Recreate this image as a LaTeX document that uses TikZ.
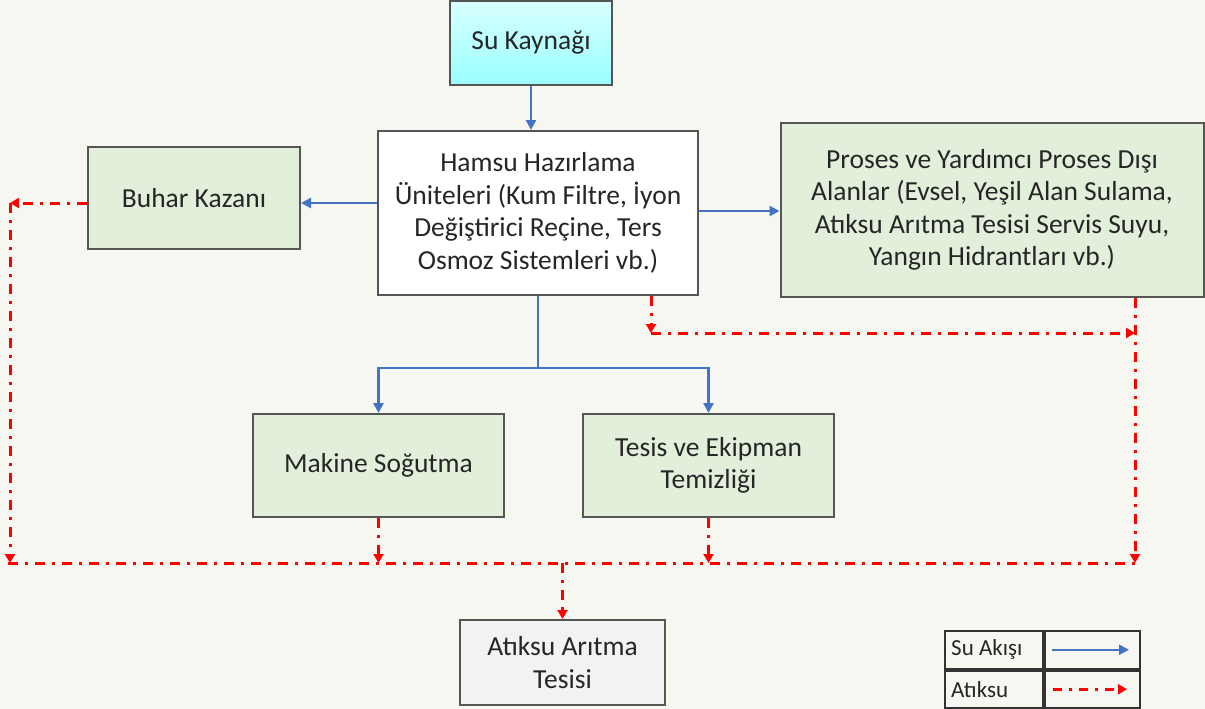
\documentclass[tikz,border=0pt]{standalone}
\usepackage{fontspec}
\setmainfont{Carlito}
\usetikzlibrary{arrows.meta}
\definecolor{zemin}{HTML}{F7F7F2}
\definecolor{akis}{HTML}{4472C4}
\definecolor{atik}{HTML}{FF0000}
\definecolor{yesil}{HTML}{E2EFDA}
\definecolor{cerceve}{HTML}{555555}
\tikzset{
  kutu/.style={draw=cerceve,line width=2pt,align=center,inner sep=2pt,
    font=\fontsize{27.5}{32.5}\selectfont,text=black!85},
  yesilkutu/.style={kutu,fill=yesil},
  flow/.style={draw=akis,line width=2.8pt,-{Triangle[width=10pt,length=10pt]}},
  flowline/.style={draw=akis,line width=2.8pt},
  waste/.style={draw=atik,line width=3pt,dash pattern=on 10pt off 7pt on 3pt off 7pt,
    -{Triangle[width=10pt,length=9pt]}},
  wasteline/.style={draw=atik,line width=3pt,dash pattern=on 10pt off 7pt on 3pt off 7pt},
  legend/.style={draw=black!80,line width=2pt,minimum height=37.5pt,inner sep=0pt,anchor=north west}
}
\begin{document}
\begin{tikzpicture}[x=1pt,y=-1pt]
\fill[zemin] (0,0) rectangle (1205,709);
\useasboundingbox (0,0) rectangle (1205,709);
\node[kutu,top color=cyan!15,bottom color=cyan!40,minimum width=162pt,minimum height=84pt] (kaynak) at (531,43) {Su Kaynağı};
\node[kutu,fill=white,minimum width=320pt,minimum height=164pt] (hamsu) at (538,213)
  {Hamsu Hazırlama\\Üniteleri (Kum Filtre, İyon\\Değiştirici Reçine, Ters\\Osmoz Sistemleri vb.)};
\node[yesilkutu,minimum width=212pt,minimum height=102pt] (buhar) at (194,198) {Buhar Kazanı};
\node[yesilkutu,minimum width=423pt,minimum height=174pt] (proses) at (992,210)
  {Proses ve Yardımcı Proses Dışı\\Alanlar (Evsel, Yeşil Alan Sulama,\\Atıksu Arıtma Tesisi Servis Suyu,\\Yangın Hidrantları vb.)};
\node[yesilkutu,minimum width=251pt,minimum height=103pt] (makine) at (378.5,465.5) {Makine Soğutma};
\node[yesilkutu,minimum width=251pt,minimum height=103pt] (tesis) at (708.5,465.5) {Tesis ve Ekipman\\Temizliği};
\node[kutu,fill=black!5,minimum width=205pt,minimum height=85pt] (aritma) at (562.5,662.5) {Atıksu Arıtma\\Tesisi};
\draw[flow] (kaynak.south) -- (kaynak.south |- hamsu.north);
\draw[flow] ([yshift=10pt]hamsu.west) -- ([yshift=10pt]hamsu.west -| buhar.east);
\draw[flow] ([yshift=2pt]hamsu.east) -- ([yshift=2pt]hamsu.east -| proses.west);
\coordinate (ayrim) at (538,368);
\draw[flowline] (hamsu.south) -- (ayrim);
\draw[flow] (ayrim) -| (makine.north);
\draw[flow] (ayrim) -| (tesis.north);
\coordinate (sol) at (10,203);
\coordinate (kose) at (651,333);
\coordinate (sag) at (1135,333);
\coordinate (hatsol) at (8,563);
\coordinate (hatsag) at (1140,563);
\draw[wasteline] (hatsol) -- (hatsag);
\draw[waste] ([yshift=-5pt]buhar.west) -- (sol);
\draw[waste] (sol) -- (sol |- hatsol);
\draw[waste] (hamsu.south -| kose) -- (kose);
\draw[waste] (kose) -- (sag);
\draw[waste] (proses.south -| sag) -- (sag |- hatsol);
\draw[waste] (makine.south) -- (makine.south |- hatsol);
\draw[waste] (tesis.south) -- (tesis.south |- hatsol);
\draw[waste] (aritma.north |- hatsol) -- (aritma.north);
\node[legend,minimum width=98pt] (lsu) at (944,630) {};
\node[legend,minimum width=98pt] (latik) at (lsu.south west) {};
\node[legend,minimum width=95pt] (osu) at (lsu.north east) {};
\node[legend,minimum width=95pt] (oatik) at (latik.north east) {};
\node[font=\fontsize{23}{27}\selectfont,anchor=west,inner sep=0pt,text=black!85] at ([xshift=7pt]lsu.west) {Su Akışı};
\node[font=\fontsize{23}{27}\selectfont,anchor=west,inner sep=0pt,text=black!85] at ([xshift=7pt]latik.west) {Atıksu};
\draw[flow,line width=2.2pt] ([xshift=8pt]osu.west) -- ([xshift=-12pt]osu.east);
\draw[waste,line width=3pt,dash pattern=on 9pt off 7pt on 3pt off 7pt] ([xshift=9pt]oatik.west) -- ([xshift=-14pt]oatik.east);
\end{tikzpicture}
\end{document}
